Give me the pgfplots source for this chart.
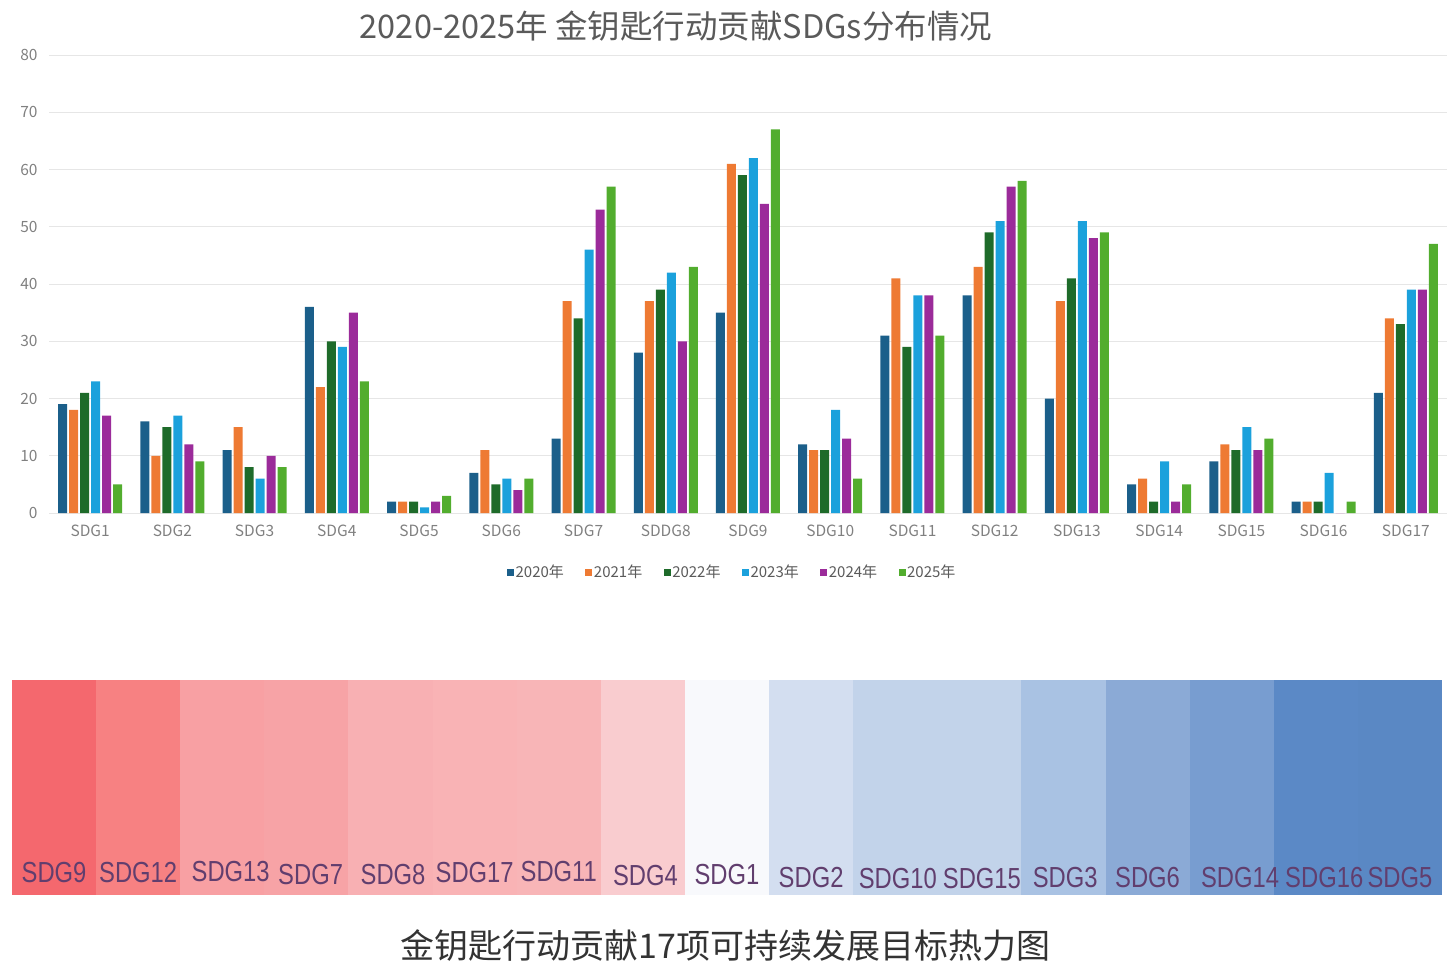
\documentclass[border=0pt]{standalone}
\usepackage{fontspec}
\setmainfont{Noto Sans CJK SC}
\newfontfamily\narrowfont[FakeStretch=0.82]{Liberation Sans}
\usepackage{pgfplots}
\pgfplotsset{compat=1.18}
\usepackage{pgfplotstable}

\definecolor{c2020}{HTML}{1B5F8A}
\definecolor{c2021}{HTML}{EE7A33}
\definecolor{c2022}{HTML}{1E6B2A}
\definecolor{c2023}{HTML}{1BA1DC}
\definecolor{c2024}{HTML}{9B2B9A}
\definecolor{c2025}{HTML}{52AD2E}
\definecolor{gridc}{HTML}{E6E6E6}
\definecolor{tickc}{HTML}{808080}
\definecolor{titlec}{HTML}{5A5A5A}
\definecolor{hlab}{HTML}{613E6E}

\definecolor{h1}{HTML}{F4686E}
\definecolor{h2}{HTML}{F78182}
\definecolor{h3}{HTML}{F8A0A3}
\definecolor{h4}{HTML}{F7A3A6}
\definecolor{h5}{HTML}{F8B0B3}
\definecolor{h6}{HTML}{F9B3B5}
\definecolor{h7}{HTML}{F8B5B7}
\definecolor{h8}{HTML}{F9CCCF}
\definecolor{h9}{HTML}{F8F9FC}
\definecolor{h10}{HTML}{D3DEF0}
\definecolor{h11}{HTML}{C2D3EA}
\definecolor{h12}{HTML}{C2D3EA}
\definecolor{h13}{HTML}{A9C2E3}
\definecolor{h14}{HTML}{8BAAD6}
\definecolor{h15}{HTML}{789DD0}
\definecolor{h16}{HTML}{5B89C6}
\definecolor{h17}{HTML}{5A88C4}

\pgfplotstableread{
x  y2020 y2021 y2022 y2023 y2024 y2025
0  19 18 21 23 17 5
1  16 10 15 17 12 9
2  11 15 8  6  10 8
3  36 22 30 29 35 23
4  2  2  2  1  2  3
5  7  11 5  6  4  6
6  13 37 34 46 53 57
7  28 37 39 42 30 43
8  35 61 59 62 54 67
9  12 11 11 18 13 6
10 31 41 29 38 38 31
11 38 43 49 51 57 58
12 20 37 41 51 48 49
13 5  6  2  9  2  5
14 9  12 11 15 11 13
15 2  2  2  7  0  2
16 21 34 33 39 39 47
}\datatable

\begin{document}
\begin{tikzpicture}
\path[use as bounding box] (0pt,0pt) rectangle (1449pt,-968pt);

\begin{axis}[
  at={(49pt,-513pt)}, anchor=south west,
  scale only axis, width=1398pt, height=458pt,
  xmin=-0.5, xmax=16.5, ymin=0, ymax=80,
  ytick={0,10,...,80},
  xtick={0,...,16},
  xticklabels={SDG1,SDG2,SDG3,SDG4,SDG5,SDG6,SDG7,SDDG8,SDG9,SDG10,SDG11,SDG12,SDG13,SDG14,SDG15,SDG16,SDG17},
  ymajorgrids, grid style={gridc, line width=1pt},
  axis line style={draw=none},
  tick style={draw=none},
  /pgf/number format/assume math mode=true,
  ticklabel style={text=tickc, font=\fontsize{15.5}{15.5}\selectfont},
  yticklabel style={anchor=east, xshift=-8pt},
  xticklabel style={yshift=-4pt},
  ybar=2pt, bar width=9pt,
  title={2020-2025年 金钥匙行动贡献SDGs分布情况},
  title style={at={(axis description cs:0.4485,1.051)}, anchor=center, text=titlec, font=\fontsize{32.5}{32.5}\selectfont},
  legend style={at={(axis description cs:0.4886,-0.129)}, anchor=center, draw=none, fill=none,
    font=\fontsize{15}{15}\selectfont, text=titlec,
    /tikz/every even column/.append style={column sep=20pt},
    nodes={inner xsep=1.5pt}},
  legend columns=6,
  legend image code/.code={\fill[#1] (0pt,-3.5pt) rectangle (7pt,3.5pt);},
]
\addplot[draw=none, fill=c2020] table[x=x,y=y2020] {\datatable};
\addplot[draw=none, fill=c2021] table[x=x,y=y2021] {\datatable};
\addplot[draw=none, fill=c2022] table[x=x,y=y2022] {\datatable};
\addplot[draw=none, fill=c2023] table[x=x,y=y2023] {\datatable};
\addplot[draw=none, fill=c2024] table[x=x,y=y2024] {\datatable};
\addplot[draw=none, fill=c2025] table[x=x,y=y2025] {\datatable};
\legend{2020年,2021年,2022年,2023年,2024年,2025年}
\end{axis}

\begin{axis}[
  at={(12pt,-895pt)}, anchor=south west,
  scale only axis, width=1430pt, height=215pt,
  xmin=0, xmax=17, ymin=0, ymax=1,
  hide axis, clip=false,
]
\addplot[draw=none, fill=h1] coordinates {(0,1) (1,1)} \closedcycle;
\addplot[draw=none, fill=h2] coordinates {(1,1) (2,1)} \closedcycle;
\addplot[draw=none, fill=h3] coordinates {(2,1) (3,1)} \closedcycle;
\addplot[draw=none, fill=h4] coordinates {(3,1) (4,1)} \closedcycle;
\addplot[draw=none, fill=h5] coordinates {(4,1) (5,1)} \closedcycle;
\addplot[draw=none, fill=h6] coordinates {(5,1) (6,1)} \closedcycle;
\addplot[draw=none, fill=h7] coordinates {(6,1) (7,1)} \closedcycle;
\addplot[draw=none, fill=h8] coordinates {(7,1) (8,1)} \closedcycle;
\addplot[draw=none, fill=h9] coordinates {(8,1) (9,1)} \closedcycle;
\addplot[draw=none, fill=h10] coordinates {(9,1) (10,1)} \closedcycle;
\addplot[draw=none, fill=h11] coordinates {(10,1) (11,1)} \closedcycle;
\addplot[draw=none, fill=h12] coordinates {(11,1) (12,1)} \closedcycle;
\addplot[draw=none, fill=h13] coordinates {(12,1) (13,1)} \closedcycle;
\addplot[draw=none, fill=h14] coordinates {(13,1) (14,1)} \closedcycle;
\addplot[draw=none, fill=h15] coordinates {(14,1) (15,1)} \closedcycle;
\addplot[draw=none, fill=h16] coordinates {(15,1) (16,1)} \closedcycle;
\addplot[draw=none, fill=h17] coordinates {(16,1) (17,1)} \closedcycle;
\begin{scope}[every node/.style={anchor=base, text=hlab, inner sep=0pt, font=\narrowfont\fontsize{29}{29}\selectfont}]
\node at (axis cs:0.5,0.060) {SDG9};
\node at (axis cs:1.5,0.060) {SDG12};
\node at (axis cs:2.6,0.065) {SDG13};
\node at (axis cs:3.55,0.047) {SDG7};
\node at (axis cs:4.53,0.047) {SDG8};
\node at (axis cs:5.5,0.060) {SDG17};
\node at (axis cs:6.5,0.065) {SDG11};
\node at (axis cs:7.53,0.042) {SDG4};
\node at (axis cs:8.5,0.047) {SDG1};
\node at (axis cs:9.5,0.033) {SDG2};
\node at (axis cs:10.53,0.028) {SDG10};
\node at (axis cs:11.53,0.028) {SDG15};
\node at (axis cs:12.52,0.037) {SDG3};
\node at (axis cs:13.5,0.037) {SDG6};
\node at (axis cs:14.6,0.037) {SDG14};
\node at (axis cs:15.6,0.037) {SDG16};
\node at (axis cs:16.5,0.037) {SDG5};
\end{scope}
\node[anchor=center, text=black!80, font=\fontsize{34}{34}\selectfont] at (rel axis cs:0.499,-0.233) {金钥匙行动贡献17项可持续发展目标热力图};
\end{axis}
\end{tikzpicture}
\end{document}
